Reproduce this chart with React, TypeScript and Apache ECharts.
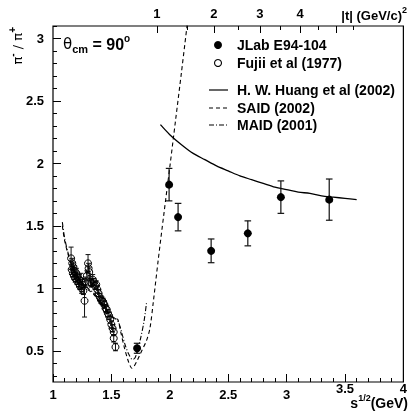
import React, { useEffect, useRef } from "react";
import * as echarts from "echarts";

// ---- data ----
const jlabW = [1.72, 1.994, 2.071, 2.354, 2.668, 2.951, 3.365];
const jlabR = [0.52, 1.83, 1.57, 1.30, 1.44, 1.73, 1.71];
const jlabErr = [0.04, 0.13, 0.11, 0.095, 0.10, 0.13, 0.165];

const fujiiW = [1.155, 1.16, 1.165, 1.17, 1.175, 1.18, 1.185, 1.19, 1.2, 1.205, 1.21, 1.22, 1.225, 1.23, 1.24, 1.245, 1.25, 1.26, 1.27, 1.28, 1.29, 1.3, 1.305, 1.31, 1.32, 1.33, 1.34, 1.35, 1.36, 1.37, 1.38, 1.39, 1.4, 1.41, 1.42, 1.43, 1.44, 1.45, 1.46, 1.47, 1.48, 1.49, 1.5, 1.51, 1.52, 1.52, 1.535];
const fujiiR = [1.24, 1.15, 1.2, 1.12, 1.17, 1.1, 1.14, 1.08, 1.12, 1.06, 1.09, 1.04, 1.07, 1.02, 1.06, 1.0, 1.03, 0.98, 0.9, 1.05, 1.1, 1.2, 1.16, 1.13, 1.05, 1.04, 1.07, 1.05, 1.02, 1.03, 0.99, 0.96, 0.93, 0.91, 0.9, 0.89, 0.87, 0.84, 0.83, 0.8, 0.78, 0.75, 0.71, 0.68, 0.65, 0.6, 0.53];
const fujiiErr = [0.09, 0.04, 0.04, 0.03, 0.04, 0.03, 0.04, 0.03, 0.04, 0.03, 0.04, 0.03, 0.04, 0.03, 0.06, 0.04, 0.04, 0.03, 0.13, 0.04, 0.04, 0.07, 0.04, 0.04, 0.03, 0.03, 0.04, 0.03, 0.03, 0.03, 0.03, 0.03, 0.03, 0.03, 0.03, 0.03, 0.03, 0.03, 0.03, 0.03, 0.03, 0.03, 0.03, 0.03, 0.03, 0.03, 0.03];

const huangW = [1.92, 2.0, 2.1, 2.2, 2.3, 2.4, 2.5, 2.6, 2.7, 2.8, 2.9, 3.0, 3.1, 3.2, 3.3, 3.4, 3.5, 3.6];
const huangR = [2.31, 2.23, 2.15, 2.08, 2.03, 1.98, 1.94, 1.9, 1.87, 1.84, 1.81, 1.79, 1.77, 1.76, 1.74, 1.73, 1.72, 1.71];

const saidW = [1.08, 1.1, 1.13, 1.16, 1.2, 1.25, 1.3, 1.35, 1.4, 1.45, 1.5, 1.53, 1.555, 1.58, 1.61, 1.64, 1.66, 1.675, 1.69, 1.72, 1.76, 1.8, 1.83, 1.86, 1.9, 1.95, 2.0, 2.05, 2.1, 2.15];
const saidR = [1.5, 1.38, 1.27, 1.18, 1.1, 1.03, 0.99, 0.95, 0.89, 0.83, 0.77, 0.76, 0.75, 0.65, 0.53, 0.43, 0.38, 0.36, 0.37, 0.42, 0.5, 0.58, 0.68, 0.9, 1.22, 1.6, 1.97, 2.35, 2.73, 3.12];

const maidW = [1.08, 1.1, 1.13, 1.16, 1.2, 1.25, 1.3, 1.35, 1.4, 1.45, 1.5, 1.53, 1.56, 1.59, 1.62, 1.65, 1.68, 1.7, 1.72, 1.75, 1.78, 1.8];
const maidR = [1.53, 1.4, 1.28, 1.19, 1.11, 1.04, 1.0, 0.96, 0.9, 0.84, 0.78, 0.76, 0.73, 0.64, 0.54, 0.47, 0.43, 0.44, 0.49, 0.6, 0.74, 0.88];

const yTicks = [0.5, 1, 1.5, 2, 2.5, 3];
const tMajor = [1, 2, 3, 4, 5];
const tLabels = [1, 2, 3, 4];
const tMinor = [1.5, 2.5, 3.5, 4.5, 5.5];

const legendNames = ["JLab E94-104", "Fujii et al (1977)", "H. W. Huang et al (2002)", "SAID (2002)", "MAID (2001)"];

// kinematics at theta_cm = 90 deg: |t| as function of W = s^(1/2)
const MN = 0.9389;
const MPI = 0.1396;
function absT(W: number) {
  const s = W * W;
  const k = (s - MN * MN) / (2 * W);
  const e = (s + MPI * MPI - MN * MN) / (2 * W);
  return 2 * k * e - MPI * MPI;
}
function wFromT(t: number) {
  let lo = 1.08, hi = 6;
  for (let i = 0; i < 60; i++) {
    const mid = (lo + hi) / 2;
    if (absT(mid) < t) lo = mid; else hi = mid;
  }
  return (lo + hi) / 2;
}

const FONT = "Liberation Sans";
const yMinor: number[] = [];
for (let i = 3; i <= 31; i++) if (i % 5 !== 0) yMinor.push(i / 10);

export default function App() {
  const ref = useRef<HTMLDivElement>(null);
  useEffect(() => {
    if (!ref.current) return;
    const chart = echarts.init(ref.current, null, { renderer: "svg" });
    const tMajorW = tMajor.map(wFromT);
    const tLabelW = tLabels.map(wFromT);
    const tMinorW = tMinor.map(wFromT);

    const errRender = (hw: number, lw: number) => (params: any, api: any) => {
      const x = api.value(0), y = api.value(1), e = api.value(2);
      const top = api.coord([x, y + e]);
      const bot = api.coord([x, y - e]);
      const st = { stroke: "#111", lineWidth: lw };
      return {
        type: "group",
        children: [
          { type: "line", shape: { x1: top[0], y1: top[1], x2: bot[0], y2: bot[1] }, style: st },
          { type: "line", shape: { x1: top[0] - hw, y1: top[1], x2: top[0] + hw, y2: top[1] }, style: st },
          { type: "line", shape: { x1: bot[0] - hw, y1: bot[1], x2: bot[0] + hw, y2: bot[1] }, style: st },
        ],
      };
    };

    const tickLabel = { fontFamily: FONT, fontWeight: "bold", fontSize: 13, color: "#000" };
    const legendY = [45, 63, 90, 108, 125];

    chart.setOption({
      animation: false,
      grid: { left: 53, right: 4, top: 26, bottom: 34, show: true, borderColor: "#000", borderWidth: 1.2, containLabel: false },
      xAxis: [
        {
          type: "value", min: 1, max: 4, interval: 0.5, position: "bottom",
          axisLine: { show: false },
          axisTick: { show: true, inside: true, length: 8, lineStyle: { color: "#000", width: 1 } },
          minorTick: { show: true, splitNumber: 5, length: 4, lineStyle: { color: "#000", width: 1 } },
          splitLine: { show: false },
          axisLabel: {
            ...tickLabel, margin: 6,
            formatter: (v: number) => (v >= 3.5 ? `{hi|${v}}` : `{n|${v}}`),
            rich: { n: { ...tickLabel }, hi: { ...tickLabel, lineHeight: 1 } },
          },
        },
        {
          type: "value", min: 1, max: 4, position: "top",
          axisLine: { show: false },
          axisTick: { show: true, inside: true, length: 7, customValues: tMajorW, lineStyle: { color: "#000" } },
          splitLine: { show: false },
          axisLabel: {
            ...tickLabel, margin: 6, customValues: tLabelW,
            formatter: (v: number) => {
              let best = 0;
              tLabelW.forEach((w, i) => { if (Math.abs(w - v) < Math.abs(tLabelW[best] - v)) best = i; });
              return String(tLabels[best]);
            },
          },
        },
        {
          type: "value", min: 1, max: 4, position: "top",
          axisLine: { show: false },
          axisTick: { show: true, inside: true, length: 4, customValues: tMinorW, lineStyle: { color: "#000" } },
          splitLine: { show: false },
          axisLabel: { show: false },
        },
      ],
      yAxis: [
        {
          type: "value", min: 0.25, max: 3.1, position: "left",
          axisLine: { show: false },
          axisTick: { show: true, inside: true, length: 8, customValues: yTicks, lineStyle: { color: "#000" } },
          splitLine: { show: false },
          axisLabel: { ...tickLabel, margin: 9, customValues: yTicks, formatter: (v: number) => String(v) },
        },
        {
          type: "value", min: 0.25, max: 3.1, position: "left",
          axisLine: { show: false },
          axisTick: { show: true, inside: true, length: 4, customValues: yMinor, lineStyle: { color: "#000" } },
          splitLine: { show: false },
          axisLabel: { show: false },
        },
      ],
      series: [
        {
          type: "line", name: legendNames[2], data: huangW.map((w, i) => [w, huangR[i]]),
          showSymbol: false, symbol: "none", smooth: 0.3, lineStyle: { color: "#000", width: 1.3 },
        },
        {
          type: "line", name: legendNames[3], data: saidW.map((w, i) => [w, saidR[i]]),
          showSymbol: false, symbol: "none", smooth: 0.3, lineStyle: { color: "#000", width: 1.1, type: [4, 3] },
        },
        {
          type: "line", name: legendNames[4], data: maidW.map((w, i) => [w, maidR[i]]),
          showSymbol: false, symbol: "none", smooth: 0.3, lineStyle: { color: "#000", width: 1.1, type: [5, 2, 1, 2] },
        },
        {
          type: "custom", name: "fujiiErr", renderItem: errRender(2.5, 1), clip: true,
          data: fujiiW.map((w, i) => [w, fujiiR[i], fujiiErr[i]]), z: 3,
        },
        {
          type: "scatter", name: legendNames[1], data: fujiiW.map((w, i) => [w, fujiiR[i]]),
          symbol: "circle", symbolSize: 7, z: 4,
          itemStyle: { color: "rgba(255,255,255,0)", borderColor: "#000", borderWidth: 1, opacity: 1 },
        },
        {
          type: "custom", name: "jlabErr", renderItem: errRender(3.3, 1.2), clip: true,
          data: jlabW.map((w, i) => [w, jlabR[i], jlabErr[i]]), z: 5,
        },
        {
          type: "scatter", name: legendNames[0], data: jlabW.map((w, i) => [w, jlabR[i]]),
          symbol: "circle", symbolSize: 8, z: 6, itemStyle: { color: "#000", opacity: 1 },
        },
      ],
      graphic: [
        { type: "circle", shape: { cx: 218, cy: legendY[0], r: 4 }, style: { fill: "#000" } },
        { type: "circle", shape: { cx: 218, cy: legendY[1], r: 3.5 }, style: { fill: "none", stroke: "#000", lineWidth: 1.1 } },
        { type: "line", shape: { x1: 209, y1: legendY[2], x2: 228, y2: legendY[2] }, style: { stroke: "#000", lineWidth: 1.2 } },
        { type: "line", shape: { x1: 209, y1: legendY[3], x2: 228, y2: legendY[3] }, style: { stroke: "#000", lineWidth: 1.1, lineDash: [4, 3] } },
        { type: "line", shape: { x1: 209, y1: legendY[4], x2: 228, y2: legendY[4] }, style: { stroke: "#000", lineWidth: 1.1, lineDash: [5, 2, 1, 2] } },
        ...legendNames.map((n, i) => ({
          type: "text", x: 237, y: legendY[i],
          style: { text: n, fontFamily: FONT, fontWeight: "bold", fontSize: 14, fill: "#000", verticalAlign: "middle" },
        })),
        {
          type: "text", x: 63, y: 44,
          style: {
            text: "{a|θ}{s|cm}{b| = 90}{p|o}", verticalAlign: "middle",
            rich: {
              a: { fontFamily: "DejaVu Sans", fontSize: 15, color: "#000" },
              s: { fontFamily: FONT, fontWeight: "bold", fontSize: 11, color: "#000", padding: [9, 0, 0, 0] },
              b: { fontFamily: FONT, fontWeight: "bold", fontSize: 16, color: "#000" },
              p: { fontFamily: FONT, fontWeight: "bold", fontSize: 10, color: "#000", padding: [0, 0, 11, 0] },
            },
          },
        },
        {
          type: "text", x: 17, y: 27, rotation: Math.PI / 2,
          style: {
            text: "{a|π}{p|-}{a| / π}{p|+}", align: "right", verticalAlign: "middle",
            rich: {
              a: { fontFamily: "DejaVu Sans", fontSize: 13, color: "#000" },
              p: { fontFamily: FONT, fontWeight: "bold", fontSize: 10, color: "#000", padding: [0, 0, 10, 0] },
            },
          },
        },
        {
          type: "text", x: 407, y: 15,
          style: {
            text: "{a||t| (GeV/c)}{p|2}", align: "right", verticalAlign: "middle",
            rich: {
              a: { fontFamily: FONT, fontWeight: "bold", fontSize: 13, color: "#000" },
              p: { fontFamily: FONT, fontWeight: "bold", fontSize: 9, color: "#000", padding: [0, 0, 10, 0] },
            },
          },
        },
        {
          type: "text", x: 408, y: 403,
          style: {
            text: "{a|s}{p|1/2}{a|(GeV)}", align: "right", verticalAlign: "middle",
            rich: {
              a: { fontFamily: FONT, fontWeight: "bold", fontSize: 14, color: "#000" },
              p: { fontFamily: FONT, fontWeight: "bold", fontSize: 9, color: "#000", padding: [0, 0, 11, 0] },
            },
          },
        },
      ],
    });
    return () => chart.dispose();
  }, []);
  return <div ref={ref} style={{ position: "fixed", left: 0, top: 0, width: 410, height: 416 }} />;
}
